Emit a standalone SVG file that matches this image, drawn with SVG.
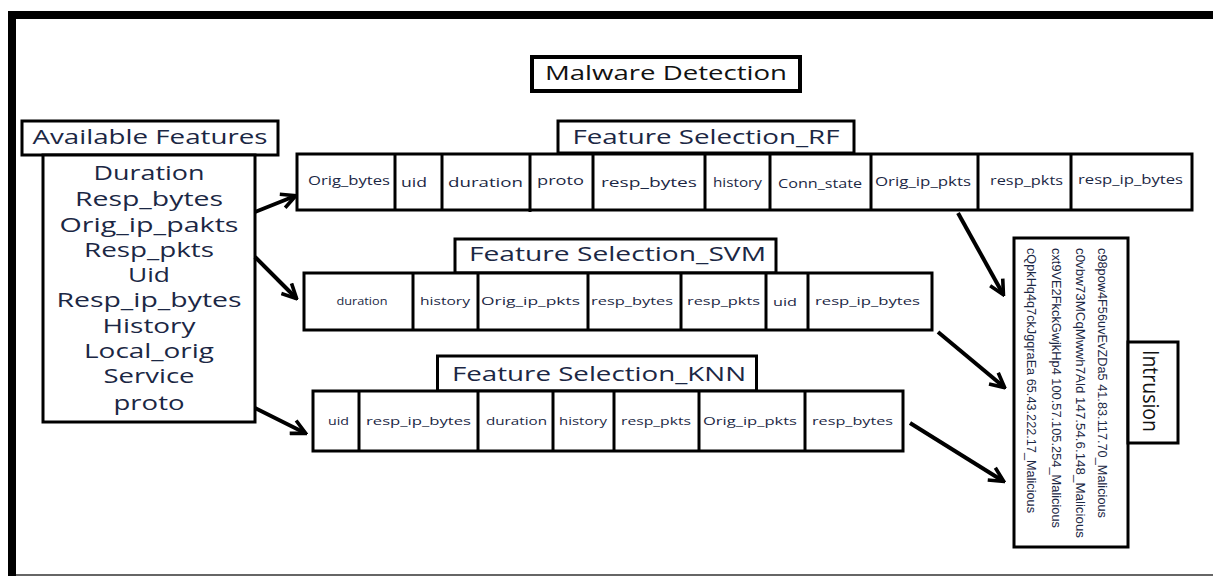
<svg xmlns="http://www.w3.org/2000/svg" width="1213" height="576" viewBox="0 0 1213 576">
<defs>
<style>
.box{fill:#fff;stroke:#000;stroke-width:3}
.div{stroke:#000;stroke-width:3}
.t{font-family:"Open Sans","DejaVu Sans",sans-serif;fill:#1b2744;text-anchor:middle}
.big{font-size:19.5px}
.title{font-size:20px}
.cell{font-size:12px}
.cs{font-size:11px}
.ip{font-family:"Liberation Sans","DejaVu Sans",sans-serif;font-size:13px;fill:#1b2744}
.arrow{stroke:#000;stroke-width:4;fill:none;marker-end:url(#ah)}
</style>
<marker id="ah" viewBox="0 0 10 10" markerWidth="4.5" markerHeight="4.5" refX="8.5" refY="5" orient="auto" markerUnits="strokeWidth">
<path d="M1,1 L9,5 L1,9" fill="none" stroke="#000" stroke-width="2" stroke-linejoin="miter"/>
</marker>
</defs>
<rect width="1213" height="576" fill="#fff"/>
<g id="frame">
<rect x="8" y="11" width="1205" height="8" fill="#000"/>
<rect x="8" y="11" width="8" height="565" fill="#000"/>
<rect x="16" y="574" width="1197" height="2" fill="#666"/>
</g>
<g id="title">
<rect x="532" y="57" width="268" height="34" fill="#fff" stroke="#000" stroke-width="4"/>
<text class="t title" x="666" y="80" textLength="242" lengthAdjust="spacingAndGlyphs" style="fill:#111">Malware Detection</text>
</g>
<g id="available-features">
<rect class="box" x="22" y="121" width="256" height="34"/>
<text class="t title" x="150" y="144" textLength="235" lengthAdjust="spacingAndGlyphs">Available Features</text>
<rect class="box" x="43" y="155" width="212" height="267"/>
<g class="t big">
<text x="149" y="180" textLength="111" lengthAdjust="spacingAndGlyphs">Duration</text>
<text x="149" y="206" textLength="148" lengthAdjust="spacingAndGlyphs">Resp_bytes</text>
<text x="149" y="232" textLength="179" lengthAdjust="spacingAndGlyphs">Orig_ip_pakts</text>
<text x="149" y="257" textLength="130" lengthAdjust="spacingAndGlyphs">Resp_pkts</text>
<text x="149" y="282" textLength="42" lengthAdjust="spacingAndGlyphs">Uid</text>
<text x="149" y="307" textLength="185" lengthAdjust="spacingAndGlyphs">Resp_ip_bytes</text>
<text x="149" y="333" textLength="93" lengthAdjust="spacingAndGlyphs">History</text>
<text x="149" y="358" textLength="130" lengthAdjust="spacingAndGlyphs">Local_orig</text>
<text x="149" y="383" textLength="91" lengthAdjust="spacingAndGlyphs">Service</text>
<text x="149" y="409.5" textLength="71" lengthAdjust="spacingAndGlyphs">proto</text>
</g>
</g>
<g id="fs-rf">
<rect class="box" x="558" y="121" width="296" height="32"/>
<text class="t title" x="706" y="144" textLength="267" lengthAdjust="spacingAndGlyphs">Feature Selection_RF</text>
<rect class="box" x="297" y="154" width="895" height="56"/>
<g class="div">
<line x1="395" y1="154" x2="395" y2="210"/><line x1="442" y1="154" x2="442" y2="210"/>
<line x1="530" y1="155" x2="530" y2="212"/><line x1="593" y1="154" x2="593" y2="210"/>
<line x1="705" y1="154" x2="705" y2="210"/><line x1="770" y1="154" x2="770" y2="210"/>
<line x1="871" y1="154" x2="871" y2="210"/><line x1="978" y1="154" x2="978" y2="210"/>
<line x1="1071" y1="154" x2="1071" y2="210"/>
</g>
<g class="t cell">
<text x="349" y="185" textLength="82" lengthAdjust="spacingAndGlyphs">Orig_bytes</text>
<text x="414" y="187" textLength="26" lengthAdjust="spacingAndGlyphs">uid</text>
<text x="485.5" y="187" textLength="75" lengthAdjust="spacingAndGlyphs">duration</text>
<text x="560.5" y="185" textLength="47" lengthAdjust="spacingAndGlyphs">proto</text>
<text x="649" y="187" textLength="96" lengthAdjust="spacingAndGlyphs">resp_bytes</text>
<text x="737.5" y="187" textLength="49" lengthAdjust="spacingAndGlyphs">history</text>
<text x="820" y="188" textLength="84" lengthAdjust="spacingAndGlyphs">Conn_state</text>
<text x="923" y="186" textLength="96" lengthAdjust="spacingAndGlyphs">Orig_ip_pkts</text>
<text x="1026.5" y="185" textLength="73" lengthAdjust="spacingAndGlyphs">resp_pkts</text>
<text x="1130.5" y="184" textLength="105" lengthAdjust="spacingAndGlyphs">resp_ip_bytes</text>
</g>
</g>
<g id="fs-svm">
<rect class="box" x="455" y="239" width="321" height="34"/>
<text class="t title" x="617.5" y="261" textLength="297" lengthAdjust="spacingAndGlyphs">Feature Selection_SVM</text>
<rect class="box" x="304" y="273" width="628" height="57"/>
<g class="div">
<line x1="413" y1="273" x2="413" y2="330"/><line x1="478" y1="273" x2="478" y2="330"/>
<line x1="588" y1="273" x2="588" y2="330"/><line x1="681" y1="273" x2="681" y2="330"/>
<line x1="766" y1="273" x2="766" y2="330"/><line x1="808" y1="273" x2="808" y2="330"/>
</g>
<g class="t cs">
<text x="362" y="305" textLength="51" lengthAdjust="spacingAndGlyphs">duration</text>
<text x="445" y="305" textLength="50" lengthAdjust="spacingAndGlyphs">history</text>
<text x="530.5" y="305" textLength="99" lengthAdjust="spacingAndGlyphs">Orig_ip_pkts</text>
<text x="632" y="305" textLength="82" lengthAdjust="spacingAndGlyphs">resp_bytes</text>
<text x="723.5" y="305" textLength="73" lengthAdjust="spacingAndGlyphs">resp_pkts</text>
<text x="785" y="306" textLength="24" lengthAdjust="spacingAndGlyphs">uid</text>
<text x="867.5" y="305" textLength="105" lengthAdjust="spacingAndGlyphs">resp_ip_bytes</text>
</g>
</g>
<g id="fs-knn">
<rect class="box" x="437.5" y="356" width="319" height="35"/>
<text class="t title" x="599" y="381" textLength="294" lengthAdjust="spacingAndGlyphs">Feature Selection_KNN</text>
<rect class="box" x="313" y="391" width="590" height="60"/>
<g class="div">
<line x1="359" y1="391" x2="359" y2="451"/><line x1="478" y1="391" x2="478" y2="451"/>
<line x1="553" y1="391" x2="553" y2="451"/><line x1="614" y1="391" x2="614" y2="451"/>
<line x1="699" y1="391" x2="699" y2="451"/><line x1="805" y1="391" x2="805" y2="451"/>
</g>
<g class="t cs">
<text x="338.5" y="425" textLength="21" lengthAdjust="spacingAndGlyphs">uid</text>
<text x="418.5" y="425" textLength="105" lengthAdjust="spacingAndGlyphs">resp_ip_bytes</text>
<text x="516.5" y="425" textLength="61" lengthAdjust="spacingAndGlyphs">duration</text>
<text x="583" y="425" textLength="48" lengthAdjust="spacingAndGlyphs">history</text>
<text x="656" y="425" textLength="70" lengthAdjust="spacingAndGlyphs">resp_pkts</text>
<text x="750" y="425" textLength="94" lengthAdjust="spacingAndGlyphs">Orig_ip_pkts</text>
<text x="852.5" y="425" textLength="81" lengthAdjust="spacingAndGlyphs">resp_bytes</text>
</g>
</g>
<g id="intrusion-list">
<rect class="box" x="1014" y="238" width="114" height="309"/>
<text class="ip" transform="translate(1098,248) rotate(90)" textLength="270" lengthAdjust="spacingAndGlyphs">c98pow4F56uvEvZDa5 41.83.117.70_Malicious</text>
<text class="ip" transform="translate(1076,248) rotate(90)" textLength="290" lengthAdjust="spacingAndGlyphs">c0vbw73MCqMwwh7Ald 147.54.6.148_Malicious</text>
<text class="ip" transform="translate(1052,248) rotate(90)" textLength="280" lengthAdjust="spacingAndGlyphs">cxt9VE2FkckGwjkHp4 100.57.105.254_Malicious</text>
<text class="ip" transform="translate(1027,248) rotate(90)" textLength="265" lengthAdjust="spacingAndGlyphs">cQpkHq4q7ckJgqraEa 65.43.222.17_Malicious</text>
</g>
<g id="intrusion">
<rect class="box" x="1128" y="342" width="50" height="101"/>
<text class="t" transform="translate(1143,391) rotate(90)" textLength="82" lengthAdjust="spacingAndGlyphs" style="fill:#111;font-size:21px">Intrusion</text>
</g>
<g id="connectors">
<line class="arrow" x1="255" y1="212" x2="295" y2="196"/>
<line class="arrow" x1="255" y1="257" x2="296" y2="298"/>
<line class="arrow" x1="255" y1="408" x2="305" y2="433"/>
<line class="arrow" x1="958" y1="213" x2="1003" y2="294"/>
<line class="arrow" x1="938" y1="332" x2="1004" y2="387"/>
<line class="arrow" x1="910" y1="423" x2="1003" y2="481"/>
</g>
</svg>
